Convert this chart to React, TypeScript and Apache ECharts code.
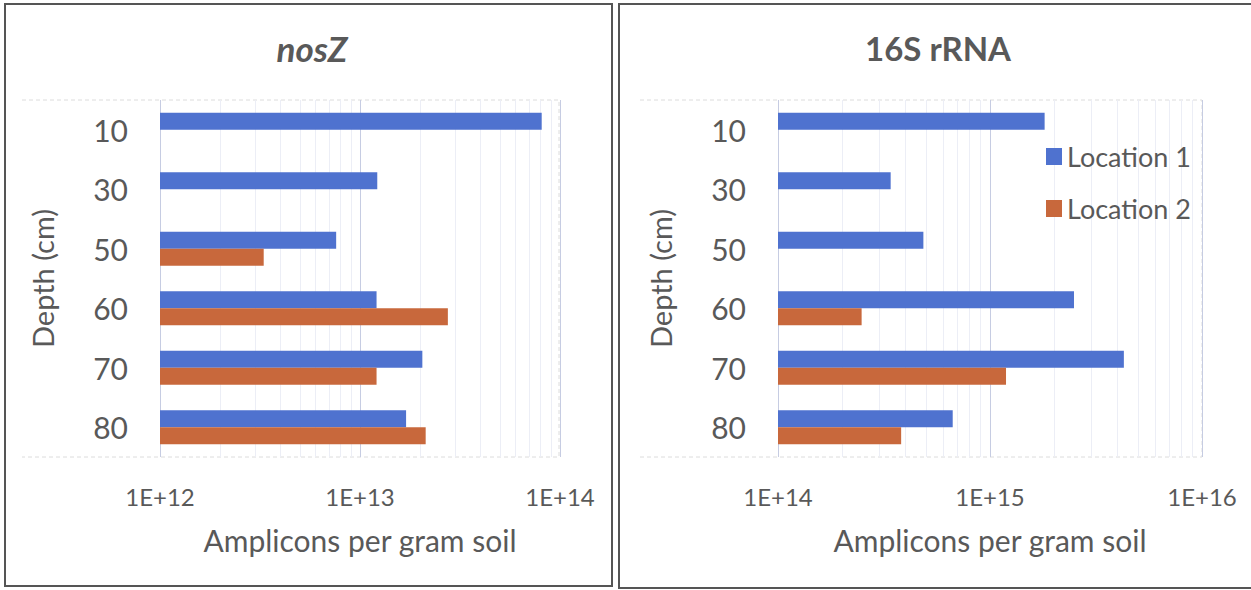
import React, { useEffect, useRef } from "react";
import * as echarts from "echarts";

const depths = ["10", "30", "50", "60", "70", "80"];
const nosZLoc1 = [8.1e13, 1.22e13, 7.6e12, 1.21e13, 2.05e13, 1.7e13];
const nosZLoc2 = [null, null, 3.3e12, 2.75e13, 1.21e13, 2.13e13];
const rrnaLoc1 = [1.81e15, 3.4e14, 4.85e14, 2.49e15, 4.28e15, 6.67e14];
const rrnaLoc2 = [null, null, null, 2.48e14, 1.19e15, 3.81e14];
const seriesNames = ["Location 1", "Location 2"];
const leftRange = [1e12, 1e14];
const rightRange = [1e14, 1e16];

const BLUE = "#4f72cf";
const ORANGE = "#c8683c";
const TEXT = "#595959";
const FONT = "Lato";

function minorLines(range: number[]) {
  const out: any[] = [];
  for (let d = range[0]; d < range[1]; d *= 10) {
    for (let m = 2; m <= 9; m++) out.push({ xAxis: d * m });
  }
  return out;
}

export default function App() {
  const ref = useRef<HTMLDivElement>(null);
  useEffect(() => {
    if (!ref.current) return;
    const chart = echarts.init(ref.current, null, { renderer: "svg" });
    const fmt = (v: number) => "1E+" + Math.round(Math.log10(v));
    const xAxis = (gi: number, range: number[]) => ({
      type: "log",
      logBase: 10,
      gridIndex: gi,
      min: range[0],
      max: range[1],
      startValue: range[0],
      axisLine: { show: false },
      axisTick: { show: false },
      splitLine: { show: true, lineStyle: { color: "#c6cce2", width: 1 } },
      axisLabel: { formatter: fmt, color: TEXT, fontSize: 24, fontFamily: FONT, margin: 27 },
      name: "Amplicons per gram soil",
      nameLocation: "middle",
      nameGap: 68,
      nameTextStyle: { color: TEXT, fontSize: 30, fontFamily: FONT },
    });
    const yAxis = (gi: number) => ({
      type: "category",
      gridIndex: gi,
      data: depths,
      inverse: true,
      axisLine: { show: false },
      axisTick: { show: false },
      axisLabel: { color: TEXT, fontSize: 30, fontFamily: FONT, margin: 32 },
      name: "Depth (cm)",
      nameLocation: "middle",
      nameRotate: 90,
      nameGap: 103,
      nameTextStyle: { color: TEXT, fontSize: 29, fontFamily: FONT },
    });
    const bar = (name: string, data: any[], gi: number, color: string, range: number[] | null) => ({
      type: "bar",
      name,
      data,
      xAxisIndex: gi,
      yAxisIndex: gi,
      barGap: "0%",
      barCategoryGap: "43%",
      itemStyle: { color },
      z: 3,
      ...(range
        ? {
            markLine: {
              silent: true,
              symbol: ["none", "none"],
              z: 1,
              label: { show: false },
              lineStyle: { color: "#eceef6", type: "solid", width: 1 },
              data: minorLines(range),
            },
          }
        : {}),
    });
    chart.setOption({
      animation: false,
      backgroundColor: "#ffffff",
      textStyle: { fontFamily: FONT },
      grid: [
        { left: 160, top: 100, width: 400, height: 357 },
        { left: 778, top: 100, width: 424, height: 357 },
      ],
      xAxis: [xAxis(0, leftRange), xAxis(1, rightRange)],
      yAxis: [yAxis(0), yAxis(1)],
      legend: {
        data: seriesNames,
        orient: "vertical",
        left: 1046,
        top: 143,
        padding: 0,
        icon: "rect",
        itemWidth: 16,
        itemHeight: 17,
        itemGap: 25,
        textStyle: { color: TEXT, fontSize: 27, fontFamily: FONT },
      },
      series: [
        bar(seriesNames[0], nosZLoc1, 0, BLUE, leftRange),
        bar(seriesNames[1], nosZLoc2, 0, ORANGE, null),
        bar(seriesNames[0], rrnaLoc1, 1, BLUE, rightRange),
        bar(seriesNames[1], rrnaLoc2, 1, ORANGE, null),
      ],
      graphic: [
        { type: "rect", shape: { x: 5, y: 4, width: 607, height: 582 }, style: { fill: "none", stroke: "#555", lineWidth: 2 } },
        { type: "rect", shape: { x: 619, y: 4, width: 640, height: 584 }, style: { fill: "none", stroke: "#555", lineWidth: 2 } },
        { type: "polyline", shape: { points: [[22, 100], [559, 100], [559, 457], [22, 457]] }, style: { fill: "none", stroke: "#dcdcdc", lineWidth: 1, lineDash: [4, 3] } },
        { type: "polyline", shape: { points: [[640, 100], [1202, 100], [1202, 457], [640, 457]] }, style: { fill: "none", stroke: "#dcdcdc", lineWidth: 1, lineDash: [4, 3] } },
        { type: "text", x: 312, y: 48, style: { text: "nosZ", align: "center", verticalAlign: "middle", fill: TEXT, font: `italic bold 35px ${FONT}` } },
        { type: "text", x: 938, y: 48, style: { text: "16S rRNA", align: "center", verticalAlign: "middle", fill: TEXT, font: `bold 33px ${FONT}` } },
      ],
    });
    return () => chart.dispose();
  }, []);
  return <div ref={ref} style={{ position: "fixed", left: 0, top: 0, width: 1251, height: 590, background: "#fff" }} />;
}
